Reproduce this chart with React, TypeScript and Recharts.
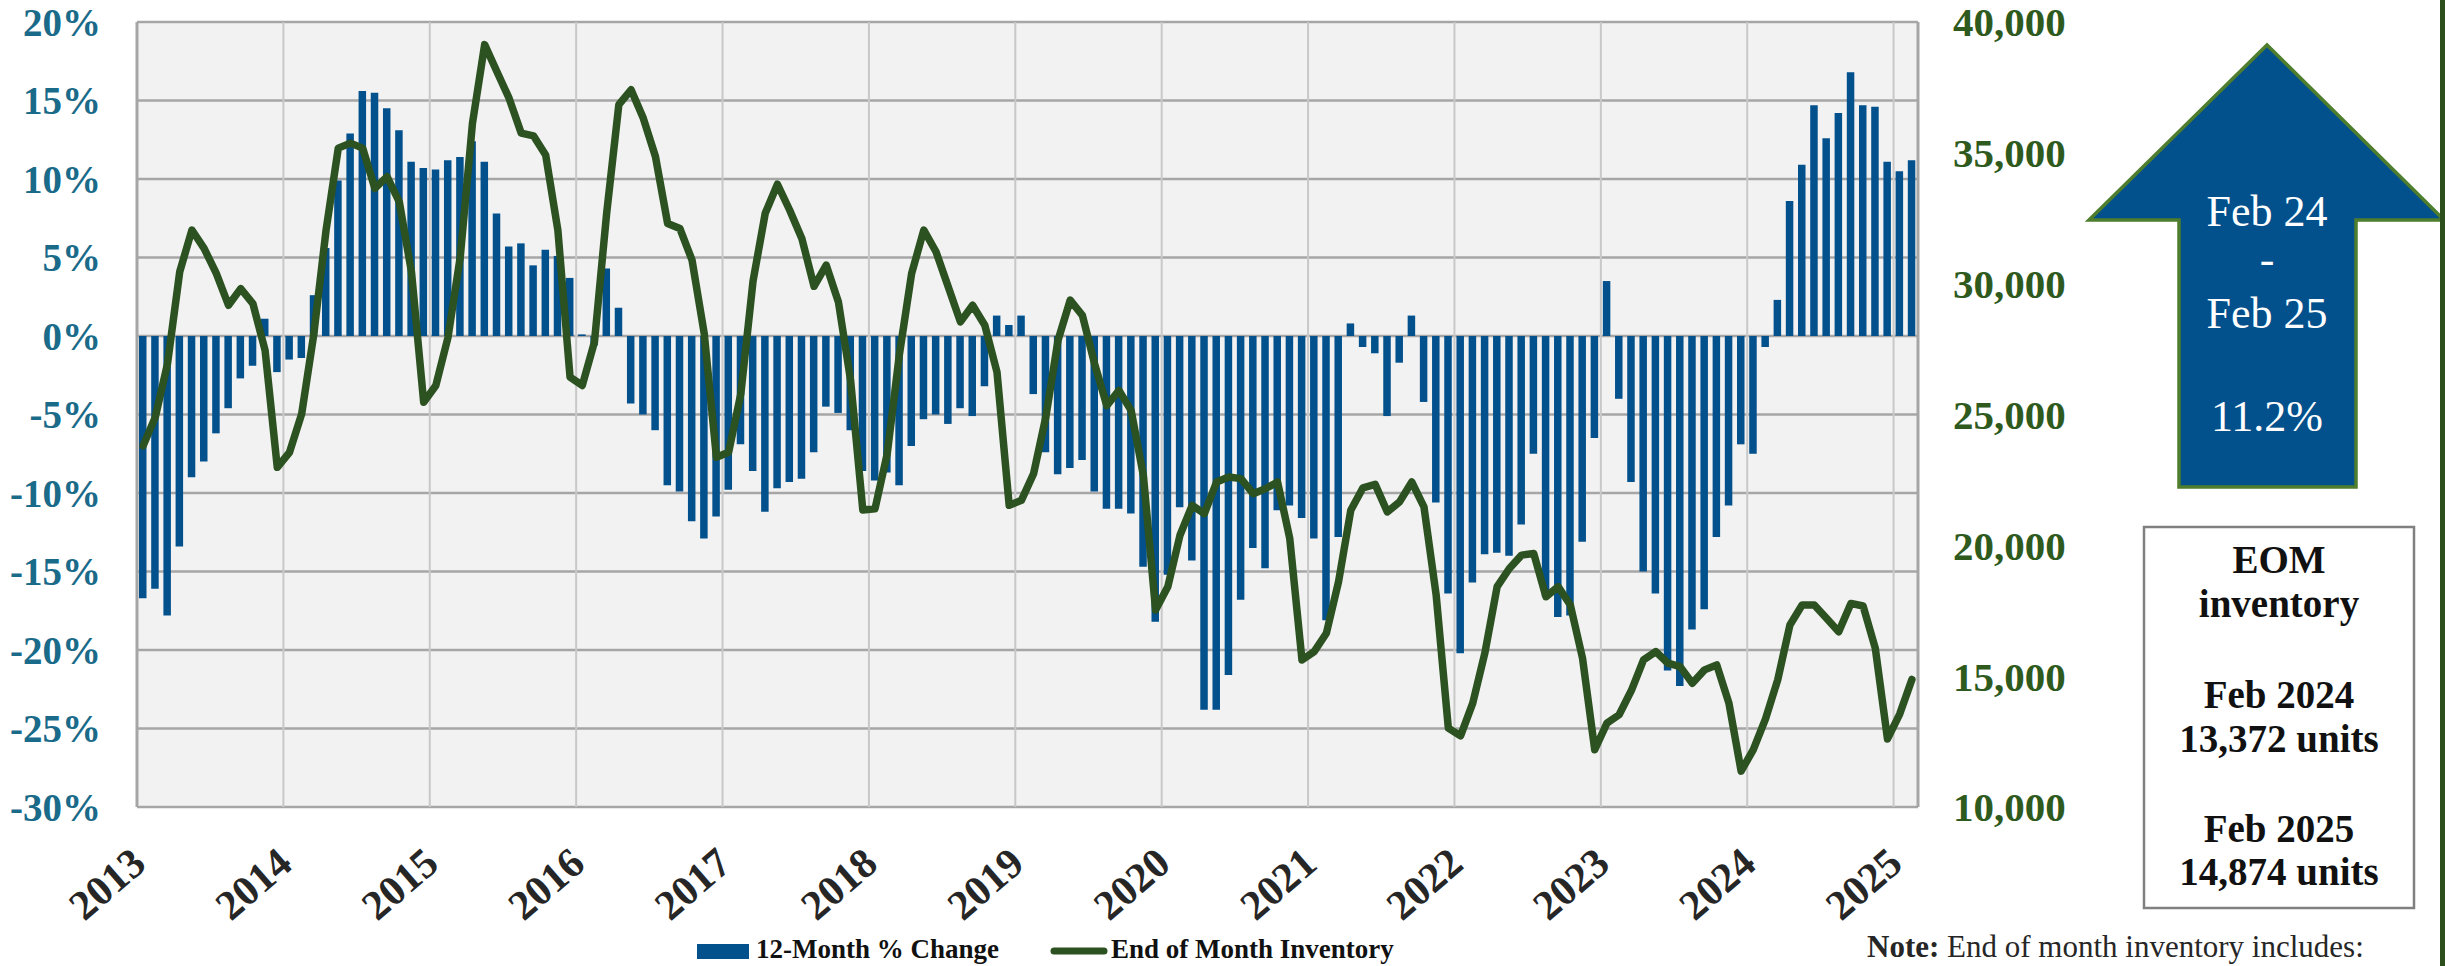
import { Bar, CartesianGrid, ComposedChart, Line, ReferenceLine, XAxis, YAxis } from "recharts";

// Monthly series, Jan 2013 – Feb 2025 (one row per month).
const YEARS = [2013, 2014, 2015, 2016, 2017, 2018, 2019, 2020, 2021, 2022, 2023, 2024, 2025];
const MONTHS: string[] = YEARS.flatMap((y) =>
  Array.from({ length: y === 2025 ? 2 : 12 }, (_, m) => `${y}-${String(m + 1).padStart(2, "0")}`)
);

// 12-month % change (left axis)
const PCT_CHANGE = [
  -16.7, -16.1, -17.8, -13.4, -9.0, -8.0, -6.2, -4.6, -2.7, -1.9, 1.1, -2.3, // 2013
  -1.5, -1.4, 2.6, 5.6, 9.9, 12.9, 15.6, 15.5, 14.5, 13.1, 11.1, 10.7, // 2014
  10.6, 11.2, 11.4, 12.4, 11.1, 7.8, 5.7, 5.9, 4.5, 5.5, 5.1, 3.7, // 2015
  0.1, -0.6, 4.3, 1.8, -4.3, -5.0, -6.0, -9.5, -9.9, -11.8, -12.9, -11.5, // 2016
  -9.8, -6.9, -8.6, -11.2, -9.7, -9.3, -9.1, -7.4, -4.5, -4.9, -6.0, -8.6, // 2017
  -9.2, -8.7, -9.5, -7.0, -5.3, -5.0, -5.6, -4.6, -5.1, -3.2, 1.3, 0.7, // 2018
  1.3, -3.7, -7.4, -8.8, -8.4, -7.9, -9.9, -11.0, -11.0, -11.3, -14.7, -18.2, // 2019
  -15.2, -10.9, -14.3, -23.8, -23.8, -21.6, -16.8, -13.5, -14.8, -11.1, -10.8, -11.6, // 2020
  -12.9, -18.1, -12.8, 0.8, -0.7, -1.1, -5.1, -1.7, 1.3, -4.2, -10.6, -16.4, // 2021
  -20.2, -15.7, -13.9, -13.8, -14.0, -12.0, -7.5, -16.6, -17.9, -17.8, -13.1, -6.5, // 2022
  3.5, -4.0, -9.3, -15.0, -16.4, -21.3, -22.3, -18.7, -17.4, -12.8, -10.8, -6.9, // 2023
  -7.5, -0.7, 2.3, 8.6, 10.9, 14.7, 12.6, 14.2, 16.8, 14.7, 14.6, 11.1, // 2024
  10.5, 11.2, // 2025
];

// End of month inventory (right axis)
const INVENTORY = [
  23800, 24900, 26940, 30450, 32050, 31350, 30390, 29175, 29810, 29240, 27450, 22980,
  23555, 25025, 28090, 32050, 35180, 35370, 35180, 33640, 34090, 33130, 30450, 25470,
  26110, 27960, 31030, 36130, 39135, 38110, 37090, 35750, 35650, 34920, 32050, 26430,
  26110, 27770, 32690, 36840, 37410, 36330, 34860, 32300, 32110, 30900, 28090, 23365,
  23555, 25790, 30100, 32690, 33800, 32815, 31730, 29900, 30710, 29300, 26300, 21350,
  21400, 23500, 27300, 30390, 32050, 31220, 29880, 28540, 29175, 28410, 26620, 21530,
  21720, 22740, 24900, 27830, 29370, 28790, 26940, 25340, 25920, 25150, 22670, 17525,
  18415, 20385, 21530, 21210, 22420, 22610, 22550, 21975, 22165, 22420, 20260, 15620,
  15940, 16640, 18610, 21340, 22200, 22330, 21275, 21660, 22420, 21470, 18100, 13015,
  12720, 13970, 15900, 18420, 19115, 19625, 19690, 18035, 18420, 17720, 15685, 12190,
  13205, 13525, 14450, 15620, 15940, 15495, 15365, 14730, 15240, 15430, 13970, 11370,
  12190, 13372, 14860, 16955, 17720, 17720, 17210, 16700, 17780, 17680, 16065, 12600,
  13550, 14874,
];

const PCT_TICKS = [-30, -25, -20, -15, -10, -5, 0, 5, 10, 15, 20];
const INV_TICKS = [10000, 15000, 20000, 25000, 30000, 35000, 40000];
const YEAR_TICKS = YEARS.map((y) => `${y}-01`);

const data = MONTHS.map((month, i) => ({ month, pct: PCT_CHANGE[i], inv: INVENTORY[i] }));

const BLUE = "#02508C";
const GREEN = "#2D5221";
const FONT = "'Liberation Serif', 'Times New Roman', serif";
const fmtInv = new Intl.NumberFormat("en-US");

function PctTick({ x, y, payload }: any) {
  return (
    <text x={x} y={y} dy="0.35em" textAnchor="end" fontFamily={FONT} fontSize={39} fontWeight="bold" fill="#1A6A89">
      {`${payload.value}%`}
    </text>
  );
}

function InvTick({ x, y, payload }: any) {
  return (
    <text x={x} y={y} dy="0.35em" textAnchor="start" fontFamily={FONT} fontSize={41} fontWeight="bold" fill="#2E5A1E">
      {fmtInv.format(payload.value)}
    </text>
  );
}

function YearTick({ x, y, payload }: any) {
  const half = payload?.offset ?? 6.1;
  const px = x - half + 11;
  const py = y + 60;
  return (
    <text x={px} y={py} textAnchor="end" transform={`rotate(-41 ${px} ${py})`} fontFamily={FONT} fontSize={42} fontWeight="bold" fill="#262626">
      {String(payload.value).slice(0, 4)}
    </text>
  );
}

function Overlay() {
  return (
    <svg width={2445} height={966} style={{ position: "absolute", left: 0, top: 0, pointerEvents: "none" }}>
      {/* up arrow */}
      <polygon
        points="2267,45 2444,220 2356,220 2356,487 2179,487 2179,220 2089,220"
        fill={BLUE}
        stroke="#4E7D2D"
        strokeWidth={3.5}
      />
      <g fontFamily={FONT} fontSize={44} fill="#fff" textAnchor="middle">
        <text x={2267} y={226}>Feb 24</text>
        <text x={2267} y={274}>-</text>
        <text x={2267} y={328}>Feb 25</text>
        <text x={2267} y={431}>11.2%</text>
      </g>

      {/* EOM box */}
      <rect x={2144} y={527} width={270} height={381} fill="#fff" stroke="#808080" strokeWidth={2.5} />
      <g fontFamily={FONT} fontSize={39} fontWeight="bold" fill="#111" textAnchor="middle">
        <text x={2279} y={573}>EOM</text>
        <text x={2279} y={617}>inventory</text>
        <text x={2279} y={708}>Feb 2024</text>
        <text x={2279} y={752}>13,372 units</text>
        <text x={2279} y={842}>Feb 2025</text>
        <text x={2279} y={885}>14,874 units</text>
      </g>

      <text x={1867} y={957} fontFamily={FONT} fontSize={31} fill="#262626">
        <tspan fontWeight="bold">Note:</tspan> End of month inventory includes:
      </text>

      {/* legend */}
      <rect x={697} y={944} width={52} height={15} fill={BLUE} />
      <text x={756} y={958} fontFamily={FONT} fontSize={27} fontWeight="bold" fill="#111">12-Month % Change</text>
      <line x1={1054} y1={951} x2={1104} y2={951} stroke={GREEN} strokeWidth={7} strokeLinecap="round" />
      <text x={1111} y={958} fontFamily={FONT} fontSize={27} fontWeight="bold" fill="#111">End of Month Inventory</text>

      <rect x={2440} y={0} width={5} height={966} fill="#2D4F1E" />
    </svg>
  );
}

export default function App() {
  return (
    <div style={{ position: "absolute", left: 0, top: 0, width: 2445, height: 966, background: "#fff" }}>
      <ComposedChart width={2445} height={966} data={data} margin={{ top: 22, right: 327, bottom: 0, left: 0 }}>
        <CartesianGrid yAxisId="pct" vertical={false} fill="#F2F2F2" stroke="#A6A6A6" strokeWidth={2.5} />
        <XAxis
          dataKey="month"
          ticks={YEAR_TICKS}
          interval={0}
          height={159}
          tickSize={0}
          tickMargin={0}
          axisLine={false}
          tickLine={false}
          tick={<YearTick />}
        />
        <YAxis
          yAxisId="pct"
          domain={[-30, 20]}
          ticks={PCT_TICKS}
          width={137}
          tickSize={0}
          tickMargin={36}
          tickLine={false}
          axisLine={{ stroke: "#A6A6A6", strokeWidth: 3 }}
          tick={<PctTick />}
        />
        <YAxis
          yAxisId="inv"
          orientation="right"
          domain={[10000, 40000]}
          ticks={INV_TICKS}
          width={200}
          tickSize={0}
          tickMargin={35}
          tickLine={false}
          axisLine={{ stroke: "#A6A6A6", strokeWidth: 3 }}
          tick={<InvTick />}
        />
        {YEAR_TICKS.slice(1).map((m) => (
          <ReferenceLine key={m} x={m} yAxisId="pct" position="start" stroke="#C8C8C8" strokeWidth={2} />
        ))}
        <Bar yAxisId="pct" dataKey="pct" fill={BLUE} barSize={7.5} isAnimationActive={false} />
        <Line
          yAxisId="inv"
          type="linear"
          dataKey="inv"
          stroke={GREEN}
          strokeWidth={7.5}
          strokeLinejoin="round"
          strokeLinecap="round"
          dot={false}
          isAnimationActive={false}
        />
      </ComposedChart>
      <Overlay />
    </div>
  );
}
